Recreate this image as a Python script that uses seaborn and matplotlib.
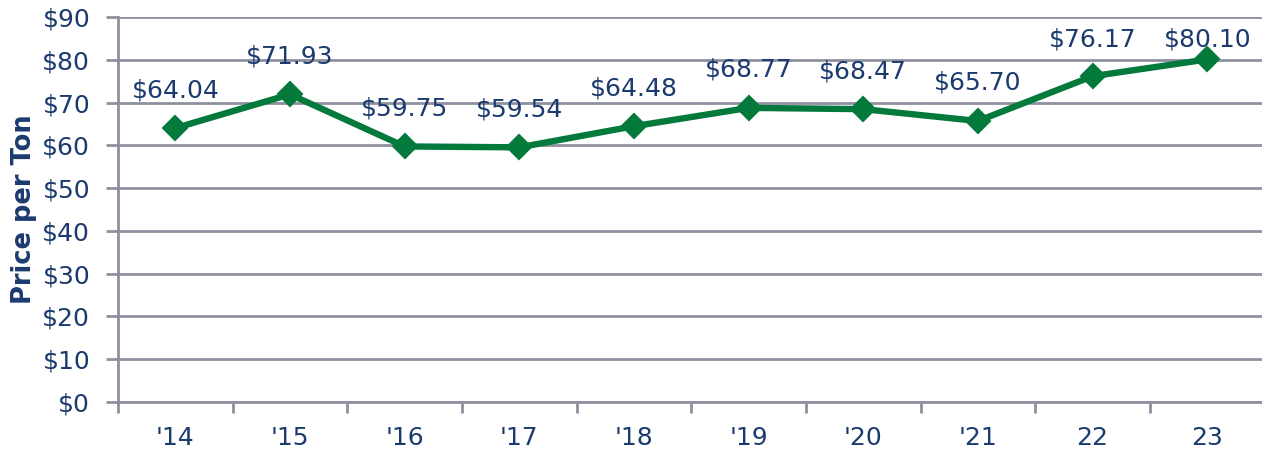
import matplotlib
matplotlib.use("Agg")
import matplotlib.pyplot as plt
import seaborn as sns
import pandas as pd
import numpy as np

years = ["'14", "'15", "'16", "'17", "'18", "'19", "'20", "'21", "22", "23"]
prices = [64.04, 71.93, 59.75, 59.54, 64.48, 68.77, 68.47, 65.70, 76.17, 80.10]
y_ticks = [0, 10, 20, 30, 40, 50, 60, 70, 80, 90]

NAVY = "#1B3A6E"
GRAY = "#8E909F"
GREEN = "#037A3B"

sns.set_theme(style="white")
plt.rcParams['font.family'] = ['DejaVu Sans']

df = pd.DataFrame({"year": years, "price": prices, "pos": np.arange(len(years))})

fig = plt.figure(figsize=(12.62, 4.55), dpi=100)
ax = fig.add_axes([0.0935, 0.1165, 0.9085, 0.846])

for v in y_ticks:
    ax.axhline(v, color=GRAY, lw=2, zorder=0)

sns.lineplot(data=df, x="pos", y="price", ax=ax, color=GREEN, lw=4.6,
             marker="D", markersize=12.5, markeredgecolor=GREEN, markeredgewidth=1.5,
             zorder=3)

ax.set_xlim(-0.5, len(years) - 0.5)
ax.set_ylim(0, 90)

# data labels above points; kept inside the chart area near the top (as Excel does)
fig_h_px = fig.get_size_inches()[1] * fig.dpi
max_center_px = fig_h_px - 40  # label centre no higher than 40 px below the top
for p, v in zip(df["pos"], prices):
    px_y = ax.transData.transform((p, v))[1]
    off_px = min(38, max_center_px - px_y)
    ax.annotate(f"${v:.2f}", (p, v), xytext=(0, off_px * 72 / fig.dpi),
                textcoords="offset points",
                ha="center", va="center", fontsize=18, color=NAVY, zorder=4)

ax.set_yticks(y_ticks)
ax.set_yticklabels([f"${v}" for v in y_ticks], fontsize=18, color=NAVY)
ax.set_xticks(df["pos"])
ax.set_xticklabels(years, fontsize=18, color=NAVY)
ax.set_xticks(np.arange(-0.5, len(years) + 0.5, 1), minor=True)
ax.tick_params(axis="x", which="major", length=0, pad=17)
ax.tick_params(axis="x", which="minor", length=8, width=2, color=GRAY, direction="out", bottom=True)
ax.tick_params(axis="y", length=9, width=2, color=GRAY, direction="out", left=True, pad=11)
ax.set_xlabel("")
ax.set_ylabel("Price per Ton", fontsize=18.5, fontweight="bold", color=NAVY, labelpad=4)

for s in ["top", "right"]:
    ax.spines[s].set_visible(False)
for s in ["left", "bottom"]:
    ax.spines[s].set_color(GRAY)
    ax.spines[s].set_linewidth(2)

fig.savefig("out.png", dpi=100)
